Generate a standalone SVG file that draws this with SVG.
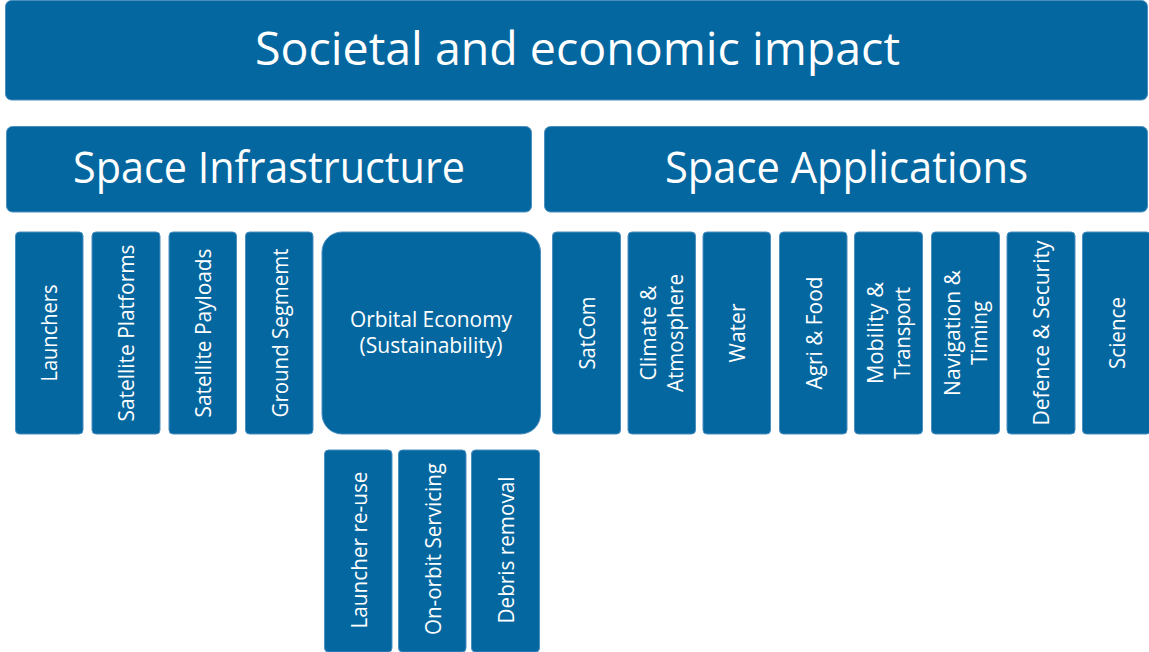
<svg xmlns="http://www.w3.org/2000/svg" width="1149" height="652" viewBox="0 0 1149 652">
<style>
.b{fill:#05679f;stroke:#4a8fbf;stroke-width:1}
.t{fill:#ffffff;font-family:"Open Sans","Noto Sans","Liberation Sans",sans-serif;text-anchor:middle}
.h1{font-size:46px}
.h2{font-size:44px}
.v{font-size:22px}
.o{font-size:21px}
</style>
<rect width="1149" height="652" fill="#ffffff"/>
<g id="societal">
<rect class="b" x="5.5" y="0.5" width="1142" height="99.5" rx="6"/>
<text class="t h1" x="577.5" y="65" textLength="645" lengthAdjust="spacingAndGlyphs">Societal and economic impact</text>
</g>
<g id="space-infrastructure">
<rect class="b" x="6.5" y="126.5" width="525" height="85.5" rx="6"/>
<text class="t h2" x="269" y="183" textLength="392" lengthAdjust="spacingAndGlyphs">Space Infrastructure</text>
</g>
<g id="space-applications">
<rect class="b" x="544.5" y="126.5" width="603" height="85.5" rx="6"/>
<text class="t h2" x="846.5" y="183" textLength="363" lengthAdjust="spacingAndGlyphs">Space Applications</text>
</g>
<g id="launchers">
<rect class="b" x="15.5" y="232" width="67.5" height="202" rx="4"/>
<text class="t v" transform="translate(57,333) rotate(-90)" textLength="97" lengthAdjust="spacingAndGlyphs">Launchers</text>
</g>
<g id="satellite-platforms">
<rect class="b" x="92" y="232" width="68" height="202" rx="4"/>
<text class="t v" transform="translate(134,333) rotate(-90)" textLength="177" lengthAdjust="spacingAndGlyphs">Satellite Platforms</text>
</g>
<g id="satellite-payloads">
<rect class="b" x="169" y="232" width="67.5" height="202" rx="4"/>
<text class="t v" transform="translate(211,333) rotate(-90)" textLength="169" lengthAdjust="spacingAndGlyphs">Satellite Payloads</text>
</g>
<g id="ground-segment">
<rect class="b" x="245.5" y="232" width="67.5" height="202" rx="4"/>
<text class="t v" transform="translate(287.5,333) rotate(-90)" textLength="169" lengthAdjust="spacingAndGlyphs">Ground Segmemt</text>
</g>
<g id="orbital-economy">
<rect class="b" x="322" y="232" width="218.5" height="202" rx="20"/>
<text class="t o" x="431" y="326.7" textLength="162" lengthAdjust="spacingAndGlyphs">Orbital Economy</text>
<text class="t o" x="431" y="353.3" textLength="143" lengthAdjust="spacingAndGlyphs">(Sustainability)</text>
</g>
<g id="satcom">
<rect class="b" x="552.5" y="232" width="68" height="202" rx="4"/>
<text class="t v" transform="translate(594.5,333) rotate(-90)" textLength="73" lengthAdjust="spacingAndGlyphs">SatCom</text>
</g>
<g id="climate">
<rect class="b" x="628" y="232" width="67.5" height="202" rx="4"/>
<text class="t v" transform="translate(656,333) rotate(-90)" textLength="95" lengthAdjust="spacingAndGlyphs">Climate &amp;</text>
<text class="t v" transform="translate(683,333) rotate(-90)" textLength="118" lengthAdjust="spacingAndGlyphs">Atmosphere</text>
</g>
<g id="water">
<rect class="b" x="703" y="232" width="67.5" height="202" rx="4"/>
<text class="t v" transform="translate(745,333) rotate(-90)" textLength="59" lengthAdjust="spacingAndGlyphs">Water</text>
</g>
<g id="agri-food">
<rect class="b" x="779.5" y="232" width="67.5" height="202" rx="4"/>
<text class="t v" transform="translate(821.5,333) rotate(-90)" textLength="113" lengthAdjust="spacingAndGlyphs">Agri &amp; Food</text>
</g>
<g id="mobility">
<rect class="b" x="854.5" y="232" width="68" height="202" rx="4"/>
<text class="t v" transform="translate(882.5,333) rotate(-90)" textLength="102" lengthAdjust="spacingAndGlyphs">Mobility &amp;</text>
<text class="t v" transform="translate(909.5,333) rotate(-90)" textLength="92" lengthAdjust="spacingAndGlyphs">Transport</text>
</g>
<g id="navigation">
<rect class="b" x="931.5" y="232" width="68" height="202" rx="4"/>
<text class="t v" transform="translate(959.5,333) rotate(-90)" textLength="126" lengthAdjust="spacingAndGlyphs">Navigation &amp;</text>
<text class="t v" transform="translate(986.5,333) rotate(-90)" textLength="64" lengthAdjust="spacingAndGlyphs">Timing</text>
</g>
<g id="defence">
<rect class="b" x="1007" y="232" width="68" height="202" rx="4"/>
<text class="t v" transform="translate(1049,333) rotate(-90)" textLength="185" lengthAdjust="spacingAndGlyphs">Defence &amp; Security</text>
</g>
<g id="science">
<rect class="b" x="1082.5" y="232" width="68" height="202" rx="4"/>
<text class="t v" transform="translate(1124.5,333) rotate(-90)" textLength="72" lengthAdjust="spacingAndGlyphs">Science</text>
</g>
<g id="launcher-reuse">
<rect class="b" x="324.5" y="450" width="67.5" height="202" rx="4"/>
<text class="t v" transform="translate(366.5,550) rotate(-90)" textLength="157" lengthAdjust="spacingAndGlyphs">Launcher re-use</text>
</g>
<g id="on-orbit-servicing">
<rect class="b" x="398.5" y="450" width="67.5" height="202" rx="4"/>
<text class="t v" transform="translate(440.5,549) rotate(-90)" textLength="172" lengthAdjust="spacingAndGlyphs">On-orbit Servicing</text>
</g>
<g id="debris-removal">
<rect class="b" x="471.5" y="450" width="68" height="202" rx="4"/>
<text class="t v" transform="translate(513.5,550) rotate(-90)" textLength="147" lengthAdjust="spacingAndGlyphs">Debris removal</text>
</g>
<g id="connectors"/>
</svg>
